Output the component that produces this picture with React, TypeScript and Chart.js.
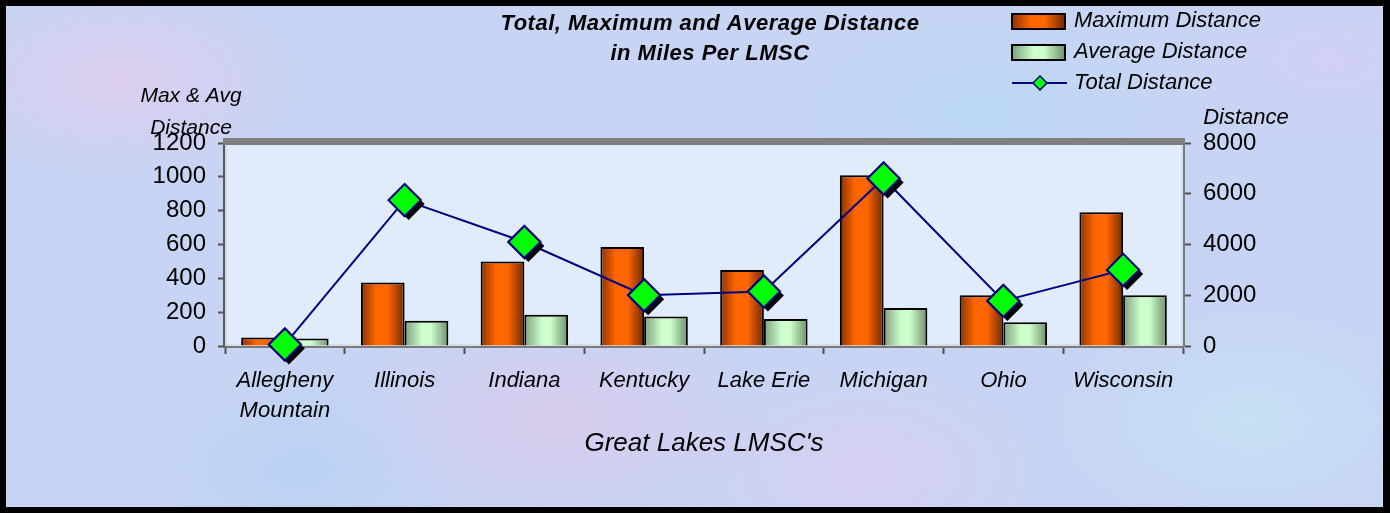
import React, { useEffect, useRef } from "react";
import { Chart, registerables } from "chart.js";

Chart.register(...registerables);

const categories: (string | string[])[] = [
  ["Allegheny", "Mountain"],
  "Illinois",
  "Indiana",
  "Kentucky",
  "Lake Erie",
  "Michigan",
  "Ohio",
  "Wisconsin",
];
const maxDistance = [50, 375, 500, 585, 450, 1010, 300, 790];
const avgDistance = [45, 150, 185, 175, 160, 225, 140, 300];
const totalDistance = [60, 5750, 4100, 2000, 2150, 6600, 1775, 3000];

const titleLines = ["Total, Maximum and Average Distance", "in Miles Per LMSC"];
const legendLabels = ["Maximum Distance", "Average Distance", "Total Distance"];
const leftAxisTitle = ["Max & Avg", "Distance"];
const rightAxisTitle = "Distance";
const xAxisTitle = "Great Lakes LMSC's";

const FONT = "'Liberation Sans', Arial, sans-serif";
const CAT_PCT = 0.73;

function orangeGrad(ctx: CanvasRenderingContext2D, x0: number, w: number) {
  const g = ctx.createLinearGradient(x0, 0, x0 + w, 0);
  g.addColorStop(0, "#8a3200");
  g.addColorStop(0.35, "#ff6600");
  g.addColorStop(0.62, "#ff6600");
  g.addColorStop(1, "#6e2800");
  return g;
}
function greenGrad(ctx: CanvasRenderingContext2D, x0: number, w: number) {
  const g = ctx.createLinearGradient(x0, 0, x0 + w, 0);
  g.addColorStop(0, "#7f9f7f");
  g.addColorStop(0.4, "#ccffcc");
  g.addColorStop(0.6, "#ccffcc");
  g.addColorStop(1, "#6e8e6e");
  return g;
}

function barBg(di: number) {
  return (c: any) => {
    const chart = c.chart;
    const xs = chart.scales && chart.scales.x;
    const fallback = di === 0 ? "#ff6600" : "#ccffcc";
    if (!xs || typeof c.dataIndex !== "number") return fallback;
    const center = xs.getPixelForValue(c.dataIndex);
    const catW = xs.width / categories.length;
    if (!isFinite(center) || !isFinite(catW) || catW <= 0) return fallback;
    const groupW = catW * CAT_PCT;
    const barW = groupW / 2;
    const left = center - groupW / 2 + di * barW;
    return di === 0 ? orangeGrad(chart.ctx, left, barW) : greenGrad(chart.ctx, left, barW);
  };
}

function diamond(ctx: CanvasRenderingContext2D, x: number, y: number, r: number) {
  ctx.beginPath();
  ctx.moveTo(x, y - r);
  ctx.lineTo(x + r, y);
  ctx.lineTo(x, y + r);
  ctx.lineTo(x - r, y);
  ctx.closePath();
}

const decorPlugin = {
  id: "decor",
  beforeDatasetsDraw(chart: any) {
    const { ctx, chartArea: a } = chart;
    ctx.save();
    ctx.fillStyle = "rgba(228,238,252,0.85)";
    ctx.fillRect(a.left, a.top, a.right - a.left, a.bottom - a.top);
    ctx.fillStyle = "#808080";
    ctx.fillRect(a.left - 2, a.top - 5, a.right - a.left + 4, 7);
    ctx.restore();
  },
  afterDatasetDraw(chart: any, args: any) {
    if (args.index !== 2) return;
    const { ctx } = chart;
    const meta = chart.getDatasetMeta(2);
    ctx.save();
    meta.data.forEach((pt: any) => {
      ctx.fillStyle = "#000000";
      diamond(ctx, pt.x + 4, pt.y + 4, 16);
      ctx.fill();
      pt.draw(ctx, chart.chartArea);
    });
    ctx.restore();
  },
  afterDraw(chart: any) {
    const { ctx } = chart;
    ctx.save();
    ctx.fillStyle = "#000";
    ctx.textAlign = "center";
    ctx.textBaseline = "middle";
    ctx.font = `italic bold 22px ${FONT}`;
    (ctx as any).letterSpacing = "0.5px";
    ctx.fillText(titleLines[0], 710, 24);
    ctx.fillText(titleLines[1], 710, 54);
    (ctx as any).letterSpacing = "0px";
    ctx.font = `italic 21px ${FONT}`;
    ctx.fillText(leftAxisTitle[0], 191, 96);
    ctx.fillText(leftAxisTitle[1], 191, 128);
    ctx.font = `italic 22px ${FONT}`;
    ctx.fillText(rightAxisTitle, 1246, 118);
    const sx = 1012, sw = 53, sh = 15;
    ctx.lineWidth = 2;
    ctx.strokeStyle = "#000";
    ctx.fillStyle = orangeGrad(ctx, sx, sw);
    ctx.fillRect(sx, 14, sw, sh);
    ctx.strokeRect(sx, 14, sw, sh);
    ctx.fillStyle = greenGrad(ctx, sx, sw);
    ctx.fillRect(sx, 45, sw, sh);
    ctx.strokeRect(sx, 45, sw, sh);
    ctx.strokeStyle = "#000080";
    ctx.beginPath();
    ctx.moveTo(sx, 83);
    ctx.lineTo(sx + 55, 83);
    ctx.stroke();
    ctx.fillStyle = "#00ff00";
    diamond(ctx, sx + 28, 83, 7);
    ctx.fill();
    ctx.lineWidth = 1.5;
    ctx.stroke();
    ctx.fillStyle = "#000";
    ctx.textAlign = "left";
    ctx.font = `italic 22px ${FONT}`;
    ctx.fillText(legendLabels[0], 1074, 21);
    ctx.fillText(legendLabels[1], 1074, 52);
    ctx.fillText(legendLabels[2], 1074, 83);
    ctx.restore();
  },
};

const plainTick = (v: any) => String(v);

export default function App() {
  const ref = useRef<HTMLCanvasElement>(null);
  useEffect(() => {
    document.body.style.margin = "0";
    const canvas = ref.current!;
    const chart = new Chart(canvas, {
      type: "bar",
      data: {
        labels: categories as any,
        datasets: [
          {
            type: "bar",
            label: legendLabels[0],
            data: maxDistance,
            yAxisID: "y",
            backgroundColor: barBg(0) as any,
            borderColor: "#000",
            borderWidth: 2,
            categoryPercentage: CAT_PCT,
            barPercentage: 1,
            order: 2,
          },
          {
            type: "bar",
            label: legendLabels[1],
            data: avgDistance,
            yAxisID: "y",
            backgroundColor: barBg(1) as any,
            borderColor: "#000",
            borderWidth: 2,
            categoryPercentage: CAT_PCT,
            barPercentage: 1,
            order: 2,
          },
          {
            type: "line",
            label: legendLabels[2],
            data: totalDistance,
            yAxisID: "y1",
            borderColor: "#000080",
            borderWidth: 2,
            pointStyle: "rectRot",
            pointRadius: 16,
            pointBackgroundColor: "#00ff00",
            pointBorderColor: "#000080",
            pointBorderWidth: 2,
            clip: false as any,
            order: 0,
            tension: 0,
          } as any,
        ],
      },
      options: {
        animation: false,
        responsive: false,
        maintainAspectRatio: false,
        layout: { padding: { top: 143, left: 0, right: 0, bottom: 0 } },
        plugins: {
          legend: { display: false },
          title: { display: false },
          tooltip: { enabled: false },
        },
        scales: {
          x: {
            offset: true,
            grid: {
              offset: true,
              drawOnChartArea: false,
              drawTicks: true,
              tickLength: 8,
              tickWidth: 2,
              tickColor: "#505050",
            },
            border: { color: "#7a7a7a", width: 4 },
            ticks: {
              color: "#000",
              font: { family: FONT, size: 22, style: "italic", lineHeight: 1.4 },
              padding: 11,
              maxRotation: 0,
              autoSkip: false,
            },
            title: {
              display: true,
              text: xAxisTitle,
              color: "#000",
              font: { family: FONT, size: 26, style: "italic" },
              padding: { top: 0, bottom: 54 },
            },
            afterFit: (s: any) => {
              s.height = 513 - 346;
            },
          },
          y: {
            position: "left",
            min: 0,
            max: 1200,
            ticks: {
              stepSize: 200,
              color: "#000",
              font: { family: FONT, size: 24 },
              padding: 12,
              callback: plainTick,
            },
            grid: {
              drawOnChartArea: false,
              drawTicks: true,
              tickLength: 7,
              tickWidth: 2,
              tickColor: "#505050",
            },
            border: { color: "#5a5a5a", width: 4 },
            afterFit: (s: any) => {
              s.width = 225;
            },
          },
          y1: {
            position: "right",
            min: 0,
            max: 8000,
            ticks: {
              stepSize: 2000,
              color: "#000",
              font: { family: FONT, size: 24 },
              padding: 12,
              callback: plainTick,
            },
            grid: {
              drawOnChartArea: false,
              drawTicks: true,
              tickLength: 8,
              tickWidth: 2,
              tickColor: "#505050",
            },
            border: { color: "#7a7a7a", width: 4 },
            afterFit: (s: any) => {
              s.width = 1390 - 1183;
            },
          },
        },
      },
      plugins: [decorPlugin as any],
    });
    return () => chart.destroy();
  }, []);

  const bg =
    "radial-gradient(ellipse 260px 140px at 120px 80px, rgba(236,200,236,0.55), rgba(236,200,236,0) 70%)," +
    "radial-gradient(ellipse 300px 160px at 560px 420px, rgba(232,196,232,0.5), rgba(232,196,232,0) 70%)," +
    "radial-gradient(ellipse 320px 170px at 980px 110px, rgba(180,220,246,0.6), rgba(180,220,246,0) 70%)," +
    "radial-gradient(ellipse 280px 160px at 1250px 420px, rgba(196,232,246,0.6), rgba(196,232,246,0) 70%)," +
    "radial-gradient(ellipse 240px 150px at 300px 470px, rgba(176,208,246,0.6), rgba(176,208,246,0) 70%)," +
    "radial-gradient(ellipse 260px 150px at 860px 470px, rgba(226,204,240,0.55), rgba(226,204,240,0) 70%)," +
    "radial-gradient(ellipse 220px 120px at 1330px 60px, rgba(214,206,244,0.6), rgba(214,206,244,0) 70%)," +
    "#c8d4f3";

  return (
    <div
      style={{
        position: "absolute",
        left: 0,
        top: 0,
        width: 1390,
        height: 513,
        background: bg,
        overflow: "hidden",
      }}
    >
      <canvas ref={ref} width={1390} height={513} style={{ position: "absolute", left: 0, top: 0, width: 1390, height: 513 }} />
      <div
        style={{
          position: "absolute",
          left: 0,
          top: 0,
          width: 1390,
          height: 513,
          boxSizing: "border-box",
          borderStyle: "solid",
          borderColor: "#000",
          borderWidth: "6px 7px 6px 6px",
          pointerEvents: "none",
        }}
      />
    </div>
  );
}
